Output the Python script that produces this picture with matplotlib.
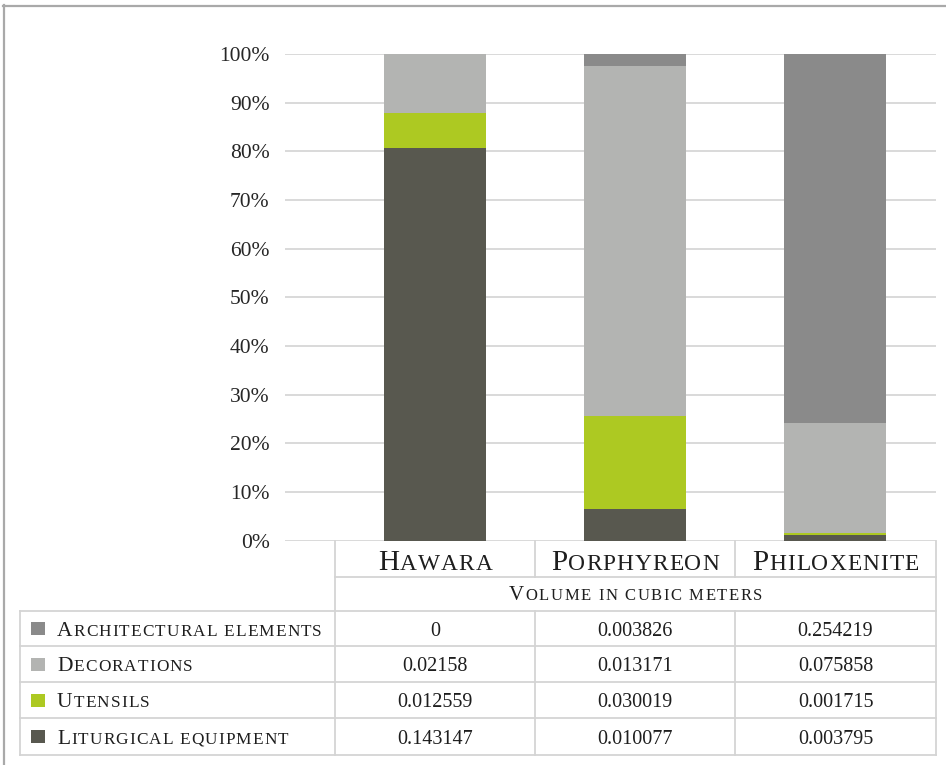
import matplotlib
matplotlib.use("Agg")
import matplotlib.pyplot as plt
from matplotlib.lines import Line2D
from matplotlib.patches import Rectangle
from matplotlib.ticker import PercentFormatter
import numpy as np

sites = ["Hawara", "Porphyreon", "Philoxenite"]
categories = ["Architectural elements", "Decorations", "Utensils", "Liturgical equipment"]
# values behind the bars (the Porphyreon decorations bar matches ~0.113,
# while the printed table below reads 0.013171)
architectural = [0, 0.003826, 0.254219]
decorations = [0.02158, 0.113171, 0.075858]
utensils = [0.012559, 0.030019, 0.001715]
liturgical = [0.143147, 0.010077, 0.003795]
# numbers as printed in the data table
table_architectural = ["0", "0.003826", "0.254219"]
table_decorations = ["0.02158", "0.013171", "0.075858"]
table_utensils = ["0.012559", "0.030019", "0.001715"]
table_liturgical = ["0.143147", "0.010077", "0.003795"]
unit_label = "Volume in cubic meters"
colors = ["#8a8a8a", "#b3b4b2", "#adc922", "#58584f"]

SERIF = "Liberation Serif"
TXT = "#1e1e1e"
LINE = "#d4d4d4"
W, H = 946, 765

fig = plt.figure(figsize=(W / 100, H / 100), dpi=100)
renderer = fig.canvas.get_renderer()


def fx(px):
    return px / W


def fy(py):
    return 1 - py / H


# stacked 100% bars
ax = fig.add_axes([fx(285), fy(540.5), (936 - 285) / W, (540.5 - 54) / H])
rows = [architectural, decorations, utensils, liturgical]
vals = np.array(rows, dtype=float)
pct = 100 * vals / vals.sum(axis=0)
x = np.arange(len(sites))
bottom = np.zeros(len(sites))
for i in range(len(rows) - 1, -1, -1):
    ax.bar(x, pct[i], 0.51, bottom=bottom, color=colors[i], zorder=3)
    bottom += pct[i]

ax.set_xlim(-0.75, 2.505)
ax.set_ylim(0, 100)
ax.set_xticks([])
ax.set_yticks(range(0, 101, 10))
ax.yaxis.set_major_formatter(PercentFormatter(decimals=0))
ax.grid(axis="y", color="#d9d9d9", lw=1.4, zorder=0)
ax.tick_params(length=0, pad=11, labelsize=15.5, labelcolor="#262626")
for lab in ax.get_yticklabels():
    lab.set_family(SERIF)
for s in ax.spines.values():
    s.set_visible(False)


def caps_text(px, py, s, size, ha="center", small=0.8, track=1.0):
    # small caps drawn letter by letter; py is the baseline
    pieces = []
    for ch in s:
        if ch == " ":
            pieces.append((None, 0.25 * size * small * 100 / 72))
            continue
        fs = size * small if ch.islower() else size
        t = fig.text(0, 0, ch.upper(), fontsize=fs, family=SERIF, color=TXT,
                     ha="left", va="baseline")
        pieces.append((t, t.get_window_extent(renderer).width))
    total = sum(w for _, w in pieces) + track * (len(pieces) - 1)
    cur = px - total / 2 if ha == "center" else px
    for t, w in pieces:
        if t is not None:
            t.set_position((fx(cur), fy(py)))
        cur += w + track


def line(x0, x1, y0, y1):
    fig.add_artist(Line2D([fx(x0), fx(x1)], [fy(y0), fy(y1)],
                          transform=fig.transFigure, color=LINE, lw=1.3))


col_x = [335, 535, 735, 936]
row_y = [611, 646, 682, 718, 755]
label_left = 20

# table grid
for cx in col_x:
    line(cx, cx, 540.5, 577)
line(335, 936, 577, 577)
line(335, 335, 577, 611)
line(936, 936, 577, 611)
for ry in row_y:
    line(label_left, 936, ry, ry)
for cx in [label_left] + col_x:
    line(cx, cx, row_y[0], row_y[-1])

# header
for j, name in enumerate(sites):
    caps_text((col_x[j] + col_x[j + 1]) / 2, 570.5, name, 21, track=1.0)
caps_text((col_x[0] + col_x[-1]) / 2, 600, unit_label, 15, track=1.6)

# data rows with legend keys
table = [table_architectural, table_decorations, table_utensils, table_liturgical]
for i, cat in enumerate(categories):
    mid = (row_y[i] + row_y[i + 1]) / 2
    fig.add_artist(Rectangle((fx(31), fy(mid + 6.5)), 14 / W, 13 / H,
                             transform=fig.transFigure, color=colors[i], lw=0))
    caps_text(57, mid + 7, cat, 15.5, ha="left", track=1.1)
    for j in range(len(sites)):
        fig.text(fx((col_x[j] + col_x[j + 1]) / 2), fy(mid + 7), table[i][j],
                 fontsize=14.5, family=SERIF, color=TXT, ha="center", va="baseline")

# outer frame
fig.add_artist(Line2D([fx(3), fx(W)], [fy(5.5), fy(5.5)], transform=fig.transFigure,
                      color="#a9a9a9", lw=1.6))
fig.add_artist(Line2D([fx(3.5), fx(3.5)], [fy(5), fy(H)], transform=fig.transFigure,
                      color="#a9a9a9", lw=1.6))

fig.savefig("out.png", dpi=100)
